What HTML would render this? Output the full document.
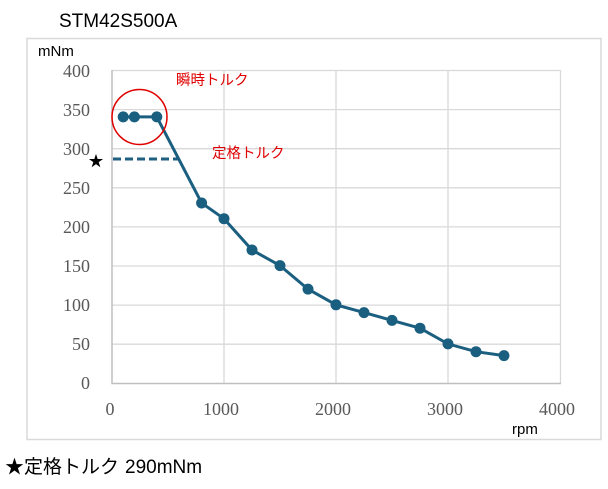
<!DOCTYPE html>
<html><head><meta charset="utf-8"><style>
body{margin:0;background:#fff;width:608px;height:484px;overflow:hidden}
text{font-family:"Liberation Sans","Noto Sans CJK JP",sans-serif}
.t text{font-family:"Liberation Serif",serif;fill:#595959;font-size:18px}
</style></head><body>
<svg width="608" height="484" xmlns="http://www.w3.org/2000/svg">
<text x="59" y="27" font-size="19" fill="#000">STM42S500A</text>
<rect x="27" y="38.5" width="574" height="401" fill="none" stroke="#d9d9d9" stroke-width="1.5"/>
<text x="38" y="56" font-size="15" fill="#000">mNm</text>
<g stroke="#d9d9d9" stroke-width="1.3">
<line x1="112" y1="70.5" x2="561" y2="70.5"/><line x1="112" y1="109.6" x2="561" y2="109.6"/><line x1="112" y1="148.7" x2="561" y2="148.7"/><line x1="112" y1="187.8" x2="561" y2="187.8"/><line x1="112" y1="226.9" x2="561" y2="226.9"/><line x1="112" y1="266" x2="561" y2="266"/><line x1="112" y1="305.1" x2="561" y2="305.1"/><line x1="112" y1="344.2" x2="561" y2="344.2"/>
<line x1="224" y1="70" x2="224" y2="383"/><line x1="336" y1="70" x2="336" y2="383"/><line x1="448" y1="70" x2="448" y2="383"/><line x1="560.5" y1="70" x2="560.5" y2="383"/>
</g>
<polyline points="112,70 112,383.5 561,383.5" fill="none" stroke="#bfbfbf" stroke-width="1.5"/>
<g class="t" text-anchor="end">
<text x="90" y="77">400</text><text x="90" y="116">350</text><text x="90" y="155">300</text><text x="90" y="194">250</text><text x="90" y="233">200</text><text x="90" y="272">150</text><text x="90" y="311">100</text><text x="90" y="350">50</text><text x="90" y="389">0</text>
</g>
<g class="t" text-anchor="middle">
<text x="110" y="415">0</text><text x="221" y="415">1000</text><text x="333" y="415">2000</text><text x="445" y="415">3000</text><text x="557" y="415">4000</text>
</g>
<text x="512" y="434" font-size="15" fill="#000">rpm</text>
<text x="96" y="166" font-size="15" text-anchor="middle" fill="#000">★</text>
<line x1="113" y1="159" x2="179" y2="159" stroke="#1f5f7f" stroke-width="3" stroke-dasharray="8,4"/>
<polyline points="123.2,116.9 134.4,116.9 156.8,116.9 201.6,203 224,218.7 252,250 280,265.6 308,289.1 336,304.8 364,312.6 392,320.4 420,328.2 448,343.9 476,351.7 504,355.6" fill="none" stroke="#1a5f80" stroke-width="3"/>
<g fill="#1a5f80">
<circle cx="123.2" cy="116.9" r="5.5"/><circle cx="134.4" cy="116.9" r="5.5"/><circle cx="156.8" cy="116.9" r="5.5"/><circle cx="201.6" cy="203" r="5.5"/><circle cx="224" cy="218.7" r="5.5"/><circle cx="252" cy="250" r="5.5"/><circle cx="280" cy="265.6" r="5.5"/><circle cx="308" cy="289.1" r="5.5"/><circle cx="336" cy="304.8" r="5.5"/><circle cx="364" cy="312.6" r="5.5"/><circle cx="392" cy="320.4" r="5.5"/><circle cx="420" cy="328.2" r="5.5"/><circle cx="448" cy="343.9" r="5.5"/><circle cx="476" cy="351.7" r="5.5"/><circle cx="504" cy="355.6" r="5.5"/>
</g>
<circle cx="139.5" cy="117" r="27.5" fill="none" stroke="#e00000" stroke-width="1.5"/>
<text x="176" y="85" font-size="14.5" fill="#e00000">瞬時トルク</text>
<text x="212" y="158" font-size="14.5" fill="#e00000">定格トルク</text>
<text x="5" y="473" font-size="19" fill="#000">★定格トルク</text>
<text x="125" y="473" font-size="19" fill="#000">290mNm</text>
</svg>
</body></html>
